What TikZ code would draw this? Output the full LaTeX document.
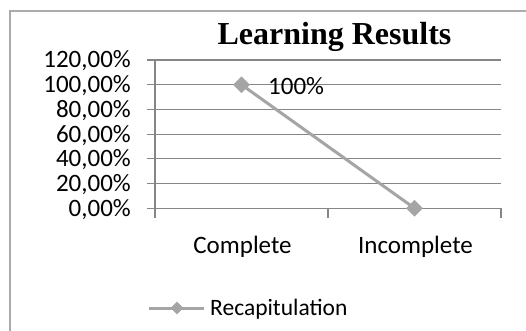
\documentclass[tikz,border=0pt]{standalone}
\usepackage{fontspec}
\setmainfont{Carlito}
\newfontfamily\titlefont{Liberation Serif}
\usetikzlibrary{positioning,shapes.geometric}

\definecolor{framegray}{HTML}{ABABAB}
\definecolor{gridgray}{HTML}{868686}
\definecolor{seriesgray}{HTML}{A5A5A5}

\begin{document}
\begin{tikzpicture}[
        x=1pt, y=-1pt,
        gridline/.style={
            draw=gridgray,
            line width=1.1pt
        },
        axislabel/.style={
            inner sep=0pt,
            font=\fontsize{25}{30}\selectfont
        },
        datapoint/.style={
            diamond,
            fill=seriesgray,
            inner sep=0pt,
            minimum size=17pt
        },
        series/.style={
            draw=seriesgray,
            line width=3pt
        }
    ]
        \clip (0,0) rectangle (526,331);
        \draw[framegray, line width=2pt] (10,11) rectangle (540,345);

        \node[inner sep=0pt, anchor=base, font=\titlefont\bfseries\fontsize{32}{36}\selectfont]
            (title) at (334.5,45) {Learning Results};

        % gridlines
        \draw[gridline] (147,60)    -- (501,60);
        \draw[gridline] (147,84.7)  -- (501,84.7);
        \draw[gridline] (147,109.4) -- (501,109.4);
        \draw[gridline] (147,134.1) -- (501,134.1);
        \draw[gridline] (147,158.8) -- (501,158.8);
        \draw[gridline] (147,183.5) -- (501,183.5);
        \draw[gridline] (147,208.2) -- (501,208.2);
        \draw[gridline] (155,60)    -- (155,218);
        \draw[gridline] (328,208.2) -- (328,218);
        \draw[gridline] (501,208.2) -- (501,218);

        \node[axislabel, anchor=base east] (y120) at (131,68)    {120,00\%};
        \node[axislabel, anchor=base east] (y100) at (131,92.7)  {100,00\%};
        \node[axislabel, anchor=base east] (y80)  at (131,117.4) {80,00\%};
        \node[axislabel, anchor=base east] (y60)  at (131,142.1) {60,00\%};
        \node[axislabel, anchor=base east] (y40)  at (131,166.8) {40,00\%};
        \node[axislabel, anchor=base east] (y20)  at (131,191.5) {20,00\%};
        \node[axislabel, anchor=base east] (y0)   at (131,216.2) {0,00\%};

        \node[axislabel, anchor=base] (complete)   at (242.5,253) {Complete};
        \node[axislabel, anchor=base] (incomplete) at (415.5,253) {Incomplete};

        % series
        \node[datapoint] (pcomplete)   at (241.5,84.7)  {};
        \node[datapoint] (pincomplete) at (414.5,208.2) {};
        \draw[series] (pcomplete.center) -- (pincomplete.center);
        \node[axislabel, anchor=base west] (value) at (268,95) {100\%};

        % legend
        \coordinate (legstart) at (149,308);
        \coordinate (legend)   at (204,308);
        \draw[series] (legstart) -- (legend);
        \node[datapoint, minimum size=13pt] (legmark) at (177,308) {};
        \node[axislabel, anchor=base west, font=\fontsize{23.5}{28}\selectfont]
            (legtext) at (210,315) {Recapitulation};
    \end{tikzpicture}
\end{document}
